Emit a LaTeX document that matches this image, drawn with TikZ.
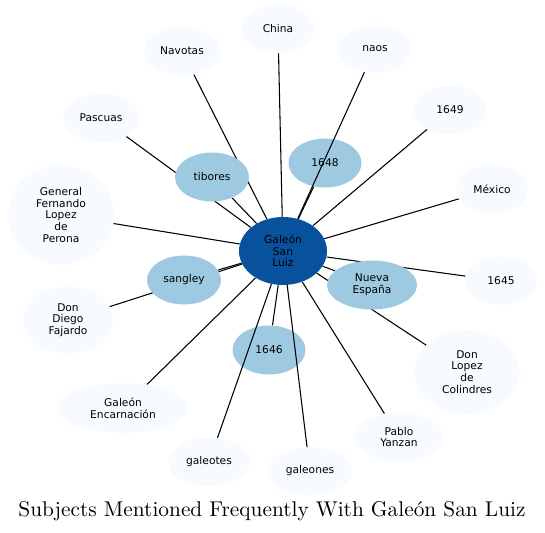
\documentclass[tikz,border=0pt]{standalone}
\usepackage{fontspec}
\newfontfamily\nodefont{DejaVu Sans}
\newfontfamily\titlefont{lmroman10-regular}[Extension=.otf]
\usetikzlibrary{shapes.geometric,backgrounds}
\definecolor{leafc}{HTML}{F7FBFF}
\definecolor{midc}{HTML}{9ECAE1}
\definecolor{hubc}{HTML}{08519C}
\tikzset{
  ell/.style 2 args={ellipse, inner sep=0pt, minimum width=#1*0.75pt, minimum height=#2*0.75pt,
    font=\nodefont\fontsize{8}{8.8}\selectfont, align=center, text=black},
  leaf/.style={fill=leafc},
  mid/.style={fill=midc},
  hubn/.style={fill=hubc},
  edge/.style={draw=black, line width=0.8pt},
}
\begin{document}
\begin{tikzpicture}[x=0.75pt,y=-0.75pt]
\useasboundingbox (0,0) rectangle (545,532);
\node[ell={88}{68}, hubn] (hub) at (283,251) {Galeón\\San\\Luiz};
\node[ell={72}{48}, leaf] (china) at (278,29) {China};
\node[ell={76}{49}, leaf] (navotas) at (182,51) {Navotas};
\node[ell={73}{48}, leaf] (naos) at (375,49) {naos};
\node[ell={76}{49}, leaf] (pascuas) at (101,118) {Pascuas};
\node[ell={74}{49}, mid] (tibores) at (212,177) {tibores};
\node[ell={73}{49}, mid] (y1648) at (325,163) {1648};
\node[ell={73}{49}, leaf] (y1649) at (450,110) {1649};
\node[ell={72}{49}, leaf] (mexico) at (492,189) {México};
\node[ell={106}{100}, leaf] (general) at (61,215) {General\\Fernando\\Lopez\\de\\Perona};
\node[ell={74}{49}, mid] (sangley) at (184,280) {sangley};
\node[ell={90}{49}, mid] (nueva) at (372,285) {Nueva\\España};
\node[ell={72}{48}, leaf] (y1645) at (501,281) {1645};
\node[ell={90}{67}, leaf] (dondiego) at (68,320) {Don\\Diego\\Fajardo};
\node[ell={73}{49}, mid] (y1646) at (269,350) {1646};
\node[ell={105}{84}, leaf] (donlopez) at (467,372) {Don\\Lopez\\de\\Colindres};
\node[ell={129}{50}, leaf] (encarnacion) at (123,408) {Galeón\\Encarnación};
\node[ell={82}{49}, leaf] (galeotes) at (209,462) {galeotes};
\node[ell={85}{48}, leaf] (galeones) at (310,471) {galeones};
\node[ell={88}{49}, leaf] (pablo) at (399,437) {Pablo\\Yanzan};
\begin{pgfonlayer}{background}
\foreach \n in {china,navotas,pascuas,tibores,y1648,y1649,mexico,general,sangley,nueva,y1645,dondiego,y1646,donlopez,encarnacion,pablo}
  \draw[edge] (hub) -- (\n);
\end{pgfonlayer}
\foreach \n in {naos,galeotes,galeones}
  \draw[edge] (hub) -- (\n);
\node[font=\titlefont\fontsize{16}{19}\selectfont, anchor=base, inner sep=0pt] (title) at (272,516) {Subjects Mentioned Frequently With Galeón San Luiz};
\end{tikzpicture}
\end{document}
